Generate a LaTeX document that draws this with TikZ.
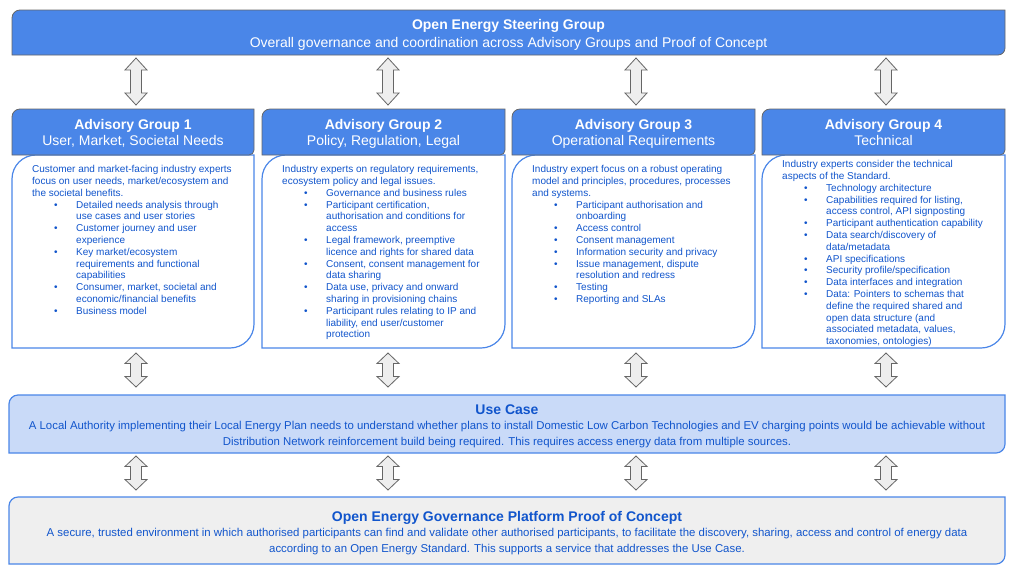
\documentclass[tikz,border=0pt]{standalone}
\usepackage{fontspec}
\setmainfont{Liberation Sans}
\usetikzlibrary{fit}
\definecolor{hdr}{HTML}{4A86E8}
\definecolor{hdrline}{HTML}{666666}
\definecolor{txt}{HTML}{1155CC}
\definecolor{ucfill}{HTML}{C9DAF8}
\definecolor{pocfill}{HTML}{EFEFEF}
\definecolor{arrfill}{HTML}{EEEEEE}
\definecolor{arrline}{HTML}{666666}
% diagonal-rounded box: name, style, x1, ytop, x2, ybot, r topleft, r bottomright (px, y down)
\newcommand{\dbox}[8]{%
  \path[#2] (#3,-#4-#7) arc[start angle=180,end angle=90,radius=#7pt] -- (#5,-#4) -- (#5,-#6+#8) arc[start angle=0,end angle=-90,radius=#8pt] -- (#3,-#6) -- cycle;
  \node[fit={(#3,-#4) (#5,-#6)}, inner sep=0pt] (#1) {};
}
% up-down block arrow: name, x, ytop, ybot, head length
\newcommand{\udarrow}[5]{%
  \draw[blockarrow] (#2,-#3) -- (#2+11,-#3-#5) -- (#2+5.5,-#3-#5) -- (#2+5.5,-#4+#5) -- (#2+11,-#4+#5) -- (#2,-#4) -- (#2-11,-#4+#5) -- (#2-5.5,-#4+#5) -- (#2-5.5,-#3-#5) -- (#2-11,-#3-#5) -- cycle;
  \coordinate (#1) at (#2,{-(#3+#4)/2});
}
\newcommand{\bl}[1]{\hspace*{22pt}\makebox[22pt][l]{\textbullet}#1}
\newcommand{\cl}[1]{\hspace*{44pt}#1}
\tikzset{
  blockarrow/.style={draw=arrline, fill=arrfill, line width=0.8pt, line join=miter},
  hdrbox/.style={fill=hdr, draw=hdrline, line width=0.8pt},
  bodybox/.style={fill=white, draw=hdr, line width=1.2pt},
  ucbox/.style={fill=ucfill, draw=hdr, line width=1.2pt},
  pocbox/.style={fill=pocfill, draw=hdr, line width=1.2pt},
  titlewhite/.style={anchor=base, inner sep=0pt, text=white, font=\fontsize{14}{16}\selectfont\bfseries},
  subwhite/.style={anchor=base, inner sep=0pt, text=white, font=\fontsize{14}{16}\selectfont},
  bodytext/.style={anchor=north west, align=left, inner sep=0pt, text=txt, font=\fontsize{10}{11.8}\selectfont},
  bluetitle/.style={anchor=base, inner sep=0pt, text=txt, font=\fontsize{14}{16}\selectfont\bfseries},
  bluetext/.style={anchor=north, align=center, inner sep=0pt, text=txt, font=\fontsize{11.4}{16}\selectfont},
}
\begin{document}
\begin{tikzpicture}[x=1pt,y=1pt]
\useasboundingbox (0,0) rectangle (1024,-574);
\fill[white] (0,0) rectangle (1024,-574);

% Steering group banner
\dbox{sg}{hdrbox}{12}{10}{1005}{55}{8}{7}
\node[titlewhite] (sgt) at (508.5,-29) {Open Energy Steering Group};
\node[subwhite] (sgs) at (508.5,-47) {Overall governance and coordination across Advisory Groups and Proof of Concept};

% top arrows
\udarrow{ta1}{136}{58}{105}{12}
\udarrow{ta2}{388}{58}{105}{12}
\udarrow{ta3}{636}{58}{105}{12}
\udarrow{ta4}{886}{58}{105}{12}

% advisory group bodies
\dbox{b1}{bodybox}{12}{155}{254}{348}{24}{24}
\dbox{b2}{bodybox}{262}{155}{505}{348}{24}{24}
\dbox{b3}{bodybox}{512}{155}{755}{348}{24}{24}
\dbox{b4}{bodybox}{762}{155}{1005}{348}{24}{24}

% advisory group headers
\dbox{h1}{hdrbox}{12}{109}{254}{155}{8}{5}
\dbox{h2}{hdrbox}{262}{109}{505}{155}{8}{5}
\dbox{h3}{hdrbox}{512}{109}{755}{155}{8}{5}
\dbox{h4}{hdrbox}{762}{109}{1005}{155}{8}{5}

\node[titlewhite] (h1a) at (133,-129) {Advisory Group 1};
\node[subwhite] (h1b) at (133,-145) {User, Market, Societal Needs};
\node[titlewhite] (h2a) at (383.5,-129) {Advisory Group 2};
\node[subwhite] (h2b) at (383.5,-145) {Policy, Regulation, Legal};
\node[titlewhite] (h3a) at (633.5,-129) {Advisory Group 3};
\node[subwhite] (h3b) at (633.5,-145) {Operational Requirements};
\node[titlewhite] (h4a) at (883.5,-129) {Advisory Group 4};
\node[subwhite] (h4b) at (883.5,-145) {Technical};

\node[bodytext] (t1) at (32,-164.2) {\strut Customer and market-facing industry experts\\
focus on user needs, market/ecosystem and\\
the societal benefits.\\
\bl{Detailed needs analysis through}\\
\cl{use cases and user stories}\\
\bl{Customer journey and user}\\
\cl{experience}\\
\bl{Key market/ecosystem}\\
\cl{requirements and functional}\\
\cl{capabilities}\\
\bl{Consumer, market, societal and}\\
\cl{economic/financial benefits}\\
\bl{Business model}};

\node[bodytext] (t2) at (282,-164.2) {\strut Industry experts on regulatory requirements,\\
ecosystem policy and legal issues.\\
\bl{Governance and business rules}\\
\bl{Participant certification,}\\
\cl{authorisation and conditions for}\\
\cl{access}\\
\bl{Legal framework, preemptive}\\
\cl{licence and rights for shared data}\\
\bl{Consent, consent management for}\\
\cl{data sharing}\\
\bl{Data use, privacy and onward}\\
\cl{sharing in provisioning chains}\\
\bl{Participant rules relating to IP and}\\
\cl{liability, end user/customer}\\
\cl{protection}};

\node[bodytext] (t3) at (532,-164.2) {\strut Industry expert focus on a robust operating\\
model and principles, procedures, processes\\
and systems.\\
\bl{Participant authorisation and}\\
\cl{onboarding}\\
\bl{Access control}\\
\bl{Consent management}\\
\bl{Information security and privacy}\\
\bl{Issue management, dispute}\\
\cl{resolution and redress}\\
\bl{Testing}\\
\bl{Reporting and SLAs}};

\node[bodytext] (t4) at (782,-159.2) {\strut Industry experts consider the technical\\
aspects of the Standard.\\
\bl{Technology architecture}\\
\bl{Capabilities required for listing,}\\
\cl{access control, API signposting}\\
\bl{Participant authentication capability}\\
\bl{Data search/discovery of}\\
\cl{data/metadata}\\
\bl{API specifications}\\
\bl{Security profile/specification}\\
\bl{Data interfaces and integration}\\
\bl{Data: Pointers to schemas that}\\
\cl{define the required shared and}\\
\cl{open data structure (and}\\
\cl{associated metadata, values,}\\
\cl{taxonomies, ontologies)}};

% middle arrows
\udarrow{ma1}{136}{353}{387}{10.5}
\udarrow{ma2}{388}{353}{387}{10.5}
\udarrow{ma3}{636}{353}{387}{10.5}
\udarrow{ma4}{886}{353}{387}{10.5}

% use case
\dbox{uc}{ucbox}{9}{395}{1005}{453}{9}{9}
\node[bluetitle] (uct) at (507,-414) {Use Case};
\node[bluetext] (ucb) at (507,-417.8) {\strut A Local Authority implementing their Local Energy Plan needs to understand whether plans to install Domestic Low Carbon Technologies and EV charging points would be achievable without\\
Distribution Network reinforcement build being required. This requires access energy data from multiple sources.};

% bottom arrows
\udarrow{ba1}{136}{456}{490}{10.5}
\udarrow{ba2}{388}{456}{490}{10.5}
\udarrow{ba3}{636}{456}{490}{10.5}
\udarrow{ba4}{886}{456}{490}{10.5}

% proof of concept
\dbox{poc}{pocbox}{9}{497}{1005}{564}{9}{9}
\node[bluetitle] (poct) at (507,-521) {Open Energy Governance Platform Proof of Concept};
\node[bluetext] (pocb) at (507,-524.8) {\strut A secure, trusted environment in which authorised participants can find and validate other authorised participants, to facilitate the discovery, sharing, access and control of energy data\\
according to an Open Energy Standard. This supports a service that addresses the Use Case.};
\end{tikzpicture}
\end{document}
